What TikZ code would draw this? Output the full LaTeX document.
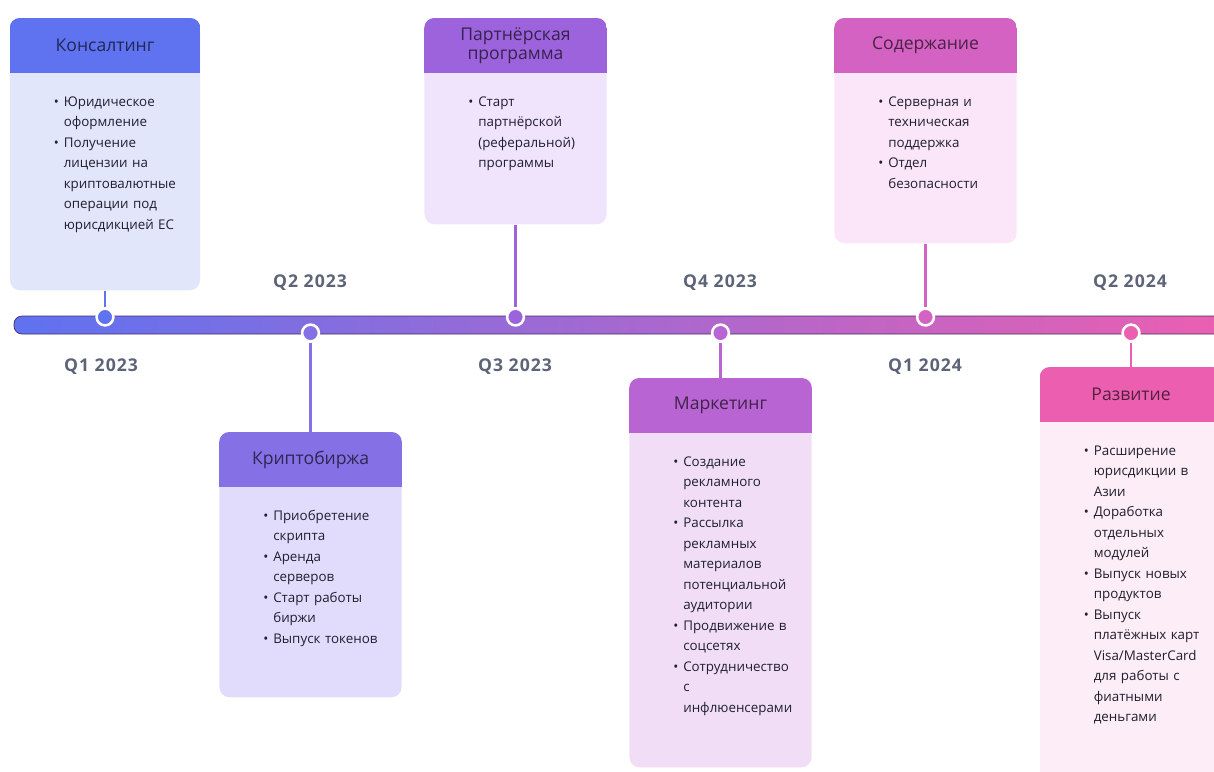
\documentclass[tikz,border=0pt]{standalone}
\usepackage{fontspec}
\setmainfont{Open Sans}
\newfontfamily\quarterfont[LetterSpace=6]{Open Sans}
\usetikzlibrary{positioning}

\definecolor{headA}{HTML}{5F72F0}
\definecolor{headB}{HTML}{8670E6}
\definecolor{headC}{HTML}{9C63DD}
\definecolor{headD}{HTML}{B865D3}
\definecolor{headE}{HTML}{D462C2}
\definecolor{headF}{HTML}{EC5FB0}
\definecolor{bodyA}{HTML}{E2E6FB}
\definecolor{bodyB}{HTML}{E2DCFC}
\definecolor{bodyC}{HTML}{F0E3FC}
\definecolor{bodyD}{HTML}{F1DEF6}
\definecolor{bodyE}{HTML}{FBE6F9}
\definecolor{bodyF}{HTML}{FDEDF6}
\definecolor{quarter}{HTML}{5D6478}
\definecolor{ink}{HTML}{1F1F2F}

\newenvironment{pointlist}{\begin{list}{\textbullet}{%
  \setlength\leftmargin{0.27cm}\setlength\labelsep{0.12cm}%
  \setlength\labelwidth{0.15cm}\setlength\itemsep{0pt}%
  \setlength\parsep{0pt}\setlength\topsep{0pt}\setlength\partopsep{0pt}}}%
  {\end{list}}

% name, x, top y, height (px), head colour, body colour, width (cm), title, items
\newcommand\card[9]{%
  \node[card, fill=#6, minimum width=#7cm, minimum height=#4*0.025cm] (#1) at (#2,#3) {};
  \begin{scope}
    \clip[rounded corners=0.25cm] (#1.north west) rectangle (#1.south east);
    \fill[#5] (#1.north west) rectangle ([yshift=-1.375cm]#1.north east);
  \end{scope}
  \node[cardtitle, text=#5!35!black] (#1-title) at ([yshift=-0.6875cm]#1.north) {#8};
  \node[cardlist] (#1-list) at ([xshift=1.075cm,yshift=-1.68cm]#1.north west)
    {\begin{pointlist}#9\end{pointlist}};
}

\begin{document}
\begin{tikzpicture}[
    x=0.025cm, y=-0.025cm,
    card/.style={anchor=north, rounded corners=0.25cm, inner sep=0pt},
    cardtitle/.style={align=center, font=\fontsize{12.5}{15.5}\selectfont},
    cardlist/.style={anchor=north west, inner sep=0pt, text width=3.6cm,
      text=ink, font=\fontsize{9.5}{14.6}\selectfont, align=left},
    quarterlbl/.style={font=\fontsize{12.5}{14}\quarterfont\bfseries, text=quarter},
    dot/.style={circle, draw=white, line width=1.8pt, fill=#1, minimum size=0.42cm, inner sep=0pt},
    stem/.style={draw=#1, line width=2pt}
]
    \useasboundingbox (0,0) rectangle (1214,771);

    \shade[left color=headA, middle color=headC, right color=headF, rounded corners=0.2cm,
      draw=black!55!headC, line width=0.5pt] (14,316) rectangle (1240,334);

    \card{cons}{105}{18}{272}{headA}{bodyA}{4.75}{Консалтинг}{%
      \item Юридическое\newline оформление
      \item Получение\newline лицензии на\newline криптовалютные\newline операции под\newline юрисдикцией ЕС}
    \card{exch}{310.5}{432}{265}{headB}{bodyB}{4.55}{Криптобиржа}{%
      \item Приобретение\newline скрипта
      \item Аренда\newline серверов
      \item Старт работы\newline биржи
      \item Выпуск токенов}
    \card{partner}{515.5}{18}{206}{headC}{bodyC}{4.55}{Партнёрская\\[-2pt]программа}{%
      \item Старт\newline партнёрской\newline (реферальной)\newline программы}
    \card{market}{720.5}{378}{389}{headD}{bodyD}{4.55}{Маркетинг}{%
      \item Создание\newline рекламного\newline контента
      \item Рассылка\newline рекламных\newline материалов\newline потенциальной\newline аудитории
      \item Продвижение в\newline соцсетях
      \item Сотрудничество\newline с\newline инфлюенсерами}
    \card{support}{925.5}{18}{225}{headE}{bodyE}{4.55}{Содержание}{%
      \item Серверная и\newline техническая\newline поддержка
      \item Отдел\newline безопасности}
    \card{growth}{1131}{367}{430}{headF}{bodyF}{4.55}{Развитие}{%
      \item Расширение\newline юрисдикции в\newline Азии
      \item Доработка\newline отдельных\newline модулей
      \item Выпуск новых\newline продуктов
      \item Выпуск\newline платёжных карт\newline Visa/MasterCard\newline для работы с\newline фиатными\newline деньгами}

    \node[dot=headA] (m1) at (105,317) {};
    \node[dot=headB] (m2) at (310.5,333) {};
    \node[dot=headC] (m3) at (515.5,317) {};
    \node[dot=headD] (m4) at (720.5,333) {};
    \node[dot=headE] (m5) at (925.5,317) {};
    \node[dot=headF] (m6) at (1131,333) {};

    \draw[stem=headA] (cons.south) -- (m1);
    \draw[stem=headB] (m2) -- (exch.north);
    \draw[stem=headC] (partner.south) -- (m3);
    \draw[stem=headD] (m4) -- (market.north);
    \draw[stem=headE] (support.south) -- (m5);
    \draw[stem=headF] (m6) -- (growth.north);

    \node[quarterlbl] (q1) at (101,367) {Q1 2023};
    \node[quarterlbl] (q2) at (310,283) {Q2 2023};
    \node[quarterlbl] (q3) at (515,367) {Q3 2023};
    \node[quarterlbl] (q4) at (720,283) {Q4 2023};
    \node[quarterlbl] (q5) at (925,367) {Q1 2024};
    \node[quarterlbl] (q6) at (1130,283) {Q2 2024};
\end{tikzpicture}
\end{document}
